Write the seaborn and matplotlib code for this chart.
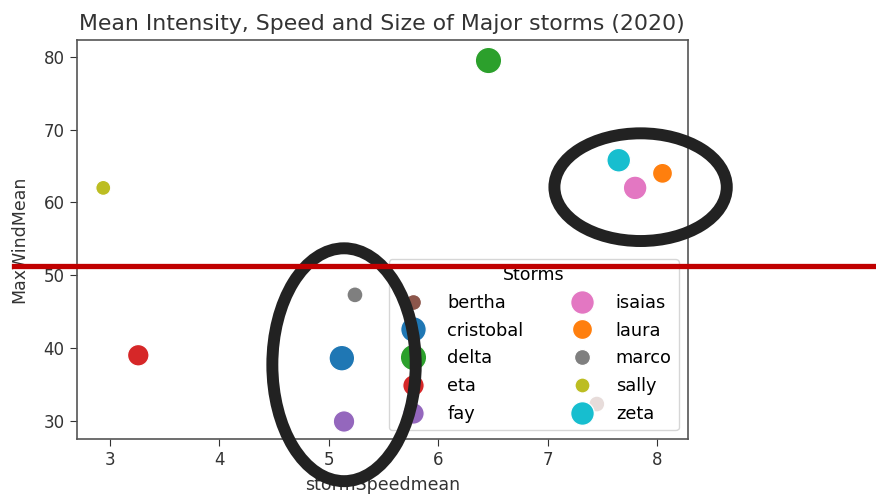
import matplotlib
matplotlib.use("Agg")
import matplotlib.pyplot as plt
from matplotlib.patches import Ellipse
from matplotlib.lines import Line2D
from matplotlib.transforms import blended_transform_factory
import seaborn as sns
import pandas as pd

# Mean values per named storm of the 2020 season
storms = ["cristobal", "laura", "delta", "eta", "fay",
          "bertha", "isaias", "marco", "sally", "zeta"]
storm_speed_mean = [5.12, 8.05, 6.46, 3.26, 5.14, 7.45, 7.80, 5.24, 2.94, 7.65]
max_wind_mean = [38.6, 64.0, 79.5, 39.0, 29.9, 32.3, 62.0, 47.3, 62.0, 65.8]
storm_size = [340, 207, 360, 240, 240, 132, 290, 132, 117, 290]

df = pd.DataFrame({
    "name": storms,
    "stormSpeedmean": storm_speed_mean,
    "MaxWindMean": max_wind_mean,
})

palette = dict(zip(storms, sns.color_palette("tab10", len(storms))))
size_map = dict(zip(storms, storm_size))
order = sorted(storms)

plt.rcParams["font.family"] = ["DejaVu Sans"]
fig = plt.figure(figsize=(8.76, 4.96), dpi=100)
ax = fig.add_axes([0.0879, 0.115, 0.6971, 0.804])

sns.scatterplot(data=df, x="stormSpeedmean", y="MaxWindMean",
                hue="name", size="name", hue_order=order, size_order=order,
                palette=palette, sizes=size_map, legend="full", ax=ax)

ax.set_xlim(2.70, 8.28)
ax.set_ylim(27.5, 82.3)
ax.set_xticks([3, 4, 5, 6, 7, 8])
ax.set_yticks([30, 40, 50, 60, 70, 80])
ax.tick_params(labelsize=12, colors="#333333", length=5, pad=4)
for sp in ax.spines.values():
    sp.set_color("#555555")
    sp.set_linewidth(1.2)
ax.set_xlabel("stormSpeedmean", fontsize=12.5, color="#333333", labelpad=5)
ax.set_ylabel("MaxWindMean", fontsize=12.5, color="#333333", labelpad=11)
ax.set_title("Mean Intensity, Speed and Size of Major storms (2020)",
             fontsize=15.8, color="#333333", pad=7)

handles, labels = ax.get_legend_handles_labels()
leg = ax.legend(handles, labels, title="Storms", ncol=2, loc="lower right",
                fontsize=12.8, title_fontsize=12.5, labelspacing=0.55,
                columnspacing=2.3, handletextpad=0.9)
leg.set_zorder(4)

# Highlight the two clusters of storms
ax.add_patch(Ellipse((5.14, 37.7), 1.31, 32.0, fill=False,
                     edgecolor="#222222", linewidth=8.6, clip_on=False, zorder=7))
ax.add_patch(Ellipse((7.85, 62.1), 1.575, 14.8, fill=False,
                     edgecolor="#222222", linewidth=8.6, clip_on=False, zorder=7))

# Threshold line running across the whole figure
trans = blended_transform_factory(fig.transFigure, ax.transData)
fig.add_artist(Line2D([0.016, 1.0], [51.2, 51.2], transform=trans,
                      color="#c00000", linewidth=3.8, zorder=8))

fig.savefig("out.png", dpi=100)
